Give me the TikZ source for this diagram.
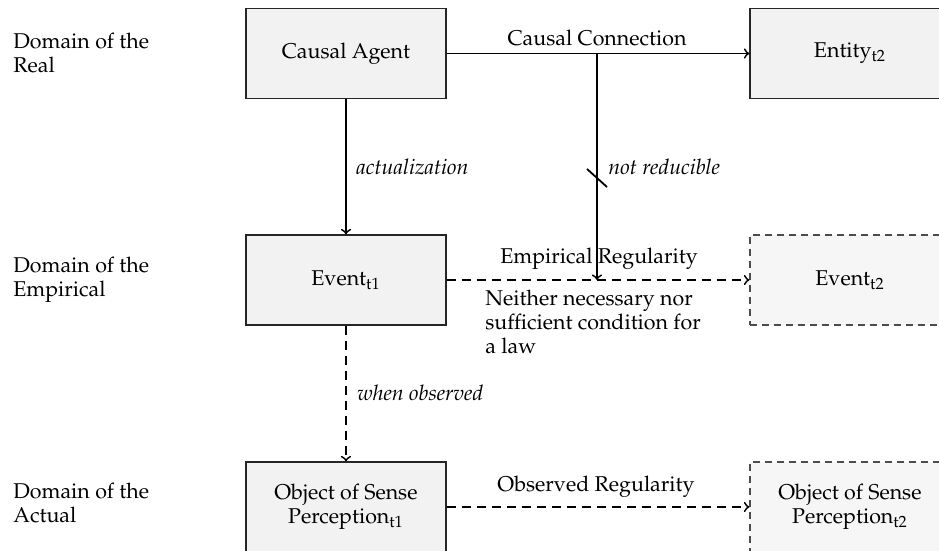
\documentclass[tikz,border=0pt]{standalone}
\usepackage[T1]{fontenc}
\usepackage{mathpazo}
\begin{document}
\fontsize{10.7}{12}\selectfont
\begin{tikzpicture}[x=0.5pt,y=-0.5pt,
  box/.style={draw=black!85, fill=gray!10, line width=0.6pt,
    minimum width=100pt, minimum height=45pt, inner sep=0pt, align=center},
  ghost/.style={box, draw=black!70, fill=gray!7, dash pattern=on 3.5pt off 2.5pt},
  link/.style={line width=0.9pt, ->},
  dlink/.style={link, dash pattern=on 4.5pt off 3pt},
  rowlabel/.style={anchor=north west, align=left, inner sep=0pt},
  lbl/.style={inner sep=0pt, font=\itshape}]
\useasboundingbox (0,0) rectangle (939,551);
\clip (0,0) rectangle (939,551);

% row labels
\node[rowlabel] (dreal) at (13,33) {Domain of the\\Real};
\node[rowlabel] (demp) at (13,257) {Domain of the\\Empirical};
\node[rowlabel] (dact) at (13,483) {Domain of the\\Actual};

% boxes
\node[box] (agent) at (346,53.5) {Causal Agent};
\node[box] (entity) at (850,53.5) {Entity\textsubscript{t2}};
\node[box] (ev1) at (346,280) {Event\textsubscript{t1}};
\node[ghost] (ev2) at (850,280) {Event\textsubscript{t2}};
\node[box] (obj1) at (346,507) {Object of Sense\\Perception\textsubscript{t1}};
\node[ghost] (obj2) at (850,507) {Object of Sense\\Perception\textsubscript{t2}};

% causal connection and its branch
\coordinate (split) at (597,53.5);
\coordinate (meet) at (597,280);
\draw[line width=0.9pt] (agent.east) -- (split);
\draw[link] (split) -- (entity.west);
\node[inner sep=0pt] (cc) at (597,38) {Causal Connection};
\draw[link] (split) -- (meet);
\coordinate (tickA) at (587,169);
\coordinate (tickB) at (607,187);
\draw[line width=0.9pt] (tickA) -- (tickB);
\node[lbl, anchor=west] (nr) at (608,167) {not reducible};

% actualization
\draw[link] (agent.south) -- (ev1.north);
\node[lbl, anchor=west] (act) at (356,167) {actualization};

% empirical regularity
\draw[dlink] (ev1.east) -- (ev2.west);
\node[inner sep=0pt] (er) at (599,259) {Empirical Regularity};
\node[anchor=north west, align=left, inner sep=0pt] (nn) at (485,290)
  {Neither necessary nor\\sufficient condition for\\a law};

% observation
\draw[dlink] (ev1.south) -- (obj1.north);
\node[lbl, anchor=west] (wo) at (357,393) {when observed};

% observed regularity
\draw[dlink] (obj1.east) -- (obj2.west);
\node[inner sep=0pt] (orr) at (596,487) {Observed Regularity};
\end{tikzpicture}
\end{document}
